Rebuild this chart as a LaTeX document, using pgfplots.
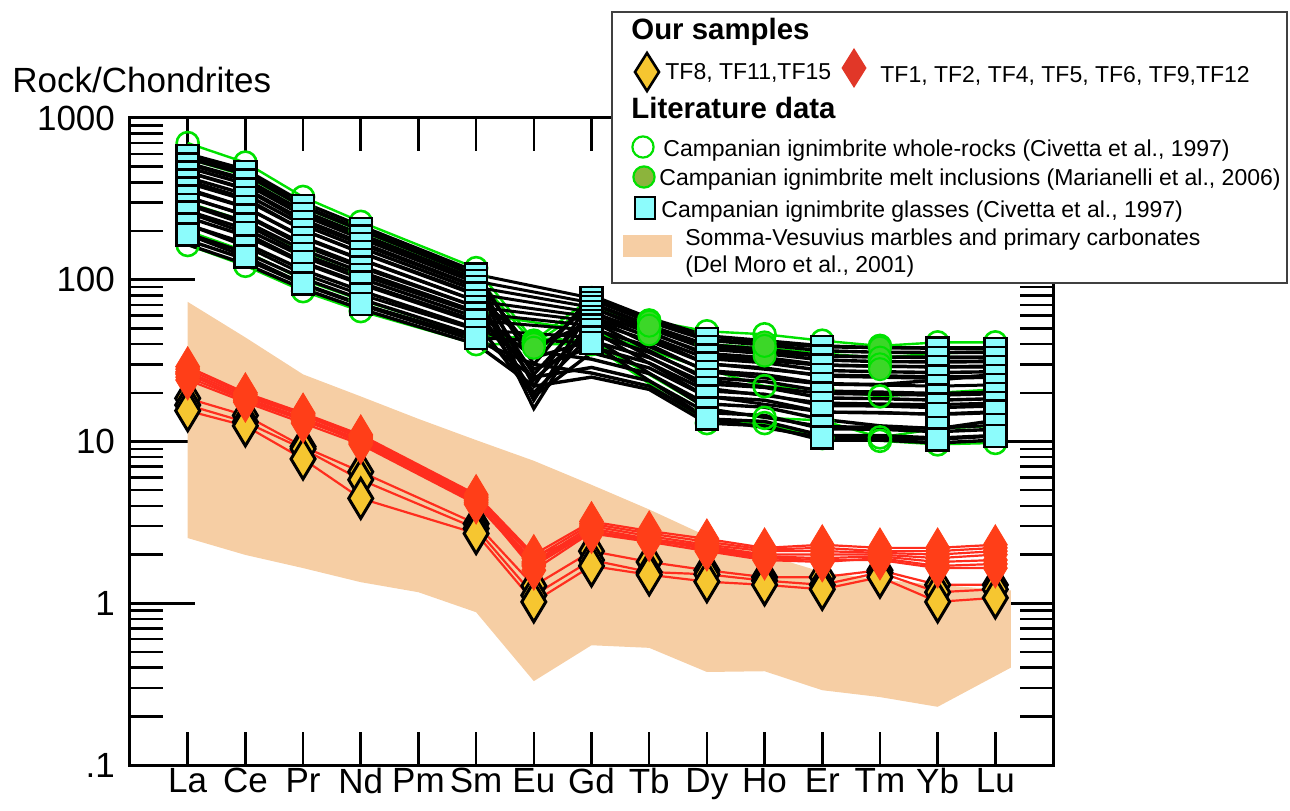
\documentclass[border=0pt]{standalone}
\usepackage{pgfplots}
\pgfplotsset{compat=1.18}
\usepackage{pgfplotstable}
\usepackage{fontspec}
\setmainfont{Liberation Sans}
\usetikzlibrary{calc}

\definecolor{bandc}{RGB}{246,206,164}
\definecolor{cyanq}{RGB}{140,252,252}
\definecolor{grn}{RGB}{0,225,0}
\definecolor{mfill}{RGB}{60,215,40}
\definecolor{legmelt}{RGB}{140,180,60}
\definecolor{redd}{RGB}{255,62,24}
\definecolor{redl}{RGB}{255,45,30}
\definecolor{legred}{RGB}{225,55,40}
\definecolor{ylw}{RGB}{246,198,48}

% Campanian ignimbrite lines (black)
\pgfplotstableread{
x  b1  b2  b3  b4  b5  b6  b7   b8  b9  b10  b11  b12  b13  b14  b15  b16
0  600 562 527 494 463 429 397  358 323 295  266  243  219  193  176  165
1  480 449 419 392 367 338 312  280 252 229  206  187  168  147  134  125
2  300 282 266 250 235 218 203  184 167 153  139  127  115  102  93.5 88
3  215 203 191 180 170 158 147  134 122 112  102  94   85.6 76   70   66
5  112 106 101 96  91  86  80.5 74  68  63.6 58.6 54.5 50   45   42   40
6  30  22  35  18  26  16  38   24  20  33   28   19   36   25   30   22
7  80  75.5 71 67  63  59  55   50  46  42   38.5 35.4 32.3 28.7 26.5 25
8  58  55  52  50  47  44.5 42  38.6 35.6 33 30.6 28.5 26.3 23.7 22   21
9  45  42.3 39.7 37.3 35 32.6 30.2 27.4 24.8 22.7 20.6 18.9 17.1 15.1 13.8 13
10 42  39.5 37.2 35 33 30.7 28.5 25.9 23.5 21.6 19.6 18 16.3 14.5 13.3 12.5
11 39  36.4 34 31.9 29.8 27.5 25.4 22.8 20.5 18.6 16.7 15.2 13.7 12 10.9 10.2
12 38  35.6 33.3 31.2 29.2 27 25 22.5 20.2 18.4 16.6 15.1 12.5 11.9 10.9 10.2
13 38  35.5 33.2 31 29 26.7 24.6 24 19.8 18 16.2 14.7 12 11.5 10.5 9.8
14 38  35.6 33.3 31.2 29.2 27 25 26 20.2 18.4 16.6 15.1 13.5 11.9 10.9 10.2
}\tblk

% whole rocks (green)
\pgfplotstableread{
x  g1  g2  g3  g4   g5
0  700 560 300 200  164
1  530 440 230 150  122
2  325 280 150 100  85
3  228 200 112 75   64
5  118 105 62  45   40
6  42  40  nan nan  nan
7  77  70  48  42   40
8  56  50  nan nan  nan
9  48  40  28  16   13
10 46  38  22  14   13
11 42  35  21  13.5 10.5
12 39  33  19  10.6 10.1
13 41  35  20  12   9.6
14 41  36  21  12.5 9.8
}\tgrn

% melt inclusions
\pgfplotstableread{
x  m1 m2 m3 m4
6  41 39 40 38
8  55 50 46 52
10 41 37 34 39
12 38 33 30 28
}\tmlt

% glasses
\pgfplotstableread{
x  s1   s2   s3   s4   s5   s6   s7   s8   s9    s10
0  580  517  461  411  366  327  291  260  219   190
1  464  410  362  320  282  249  220  195  161   139
2  286  255  228  203  181  162  144  129  108.5 94.7
3  206  185  166  148  133  119  107  96   81    71
5  108  98   90   82   74   68   62   56   49    43.7
7  77   72   67.6 63   59   55.5 52   48.7 44    40.8
9  43   38.3 34   30.3 27   24   21.4 19   16    13.9
11 38.4 33.6 29.5 25.8 22.6 19.8 17.3 15.2 12.4  10.6
13 37.6 32.9 28.8 25.2 22   19.3 16.9 14.8 12.1  10.3
14 37.3 32.8 28.9 25.4 22.4 19.7 17.3 15.3 12.6  10.8
}\tgls

% our samples, red
\pgfplotstableread{
x  r1  r2  r3   r4   r5   r6   r7
0  29  27  26   25   24   28   26.5
1  20  19  18.5 18   17.5 19.5 18
2  15  14.5 14  13.5 13   14.8 13.8
3  11  10.5 10.2 10  9.6  10.8 9.8
5  4.7 4.5 4.4  4.2  4.1  4.6  4.3
6  2.0 1.9 1.8  1.75 1.7  1.95 1.6
7  3.2 3.1 3.0  2.9  2.8  2.7  2.75
8  2.8 2.7 2.6  2.5  2.45 2.4  2.5
9  2.5 2.4 2.3  2.25 2.2  2.1  2.15
10 2.2 2.15 2.1 2.0  1.95 1.85 1.9
11 2.3 2.2 2.1  2.0  1.9  1.8  1.85
12 2.2 2.1 2.05 2.0  1.95 1.9  1.85
13 2.2 2.1 2.0  1.9  1.8  1.7  1.65
14 2.3 2.2 2.1  2.0  1.85 1.75 1.65
}\tred

% our samples, yellow
\pgfplotstableread{
x  y1   y2   y3
0  18.5 16.8 15.5
1  14.5 13.2 12.5
2  9.3  9.0  7.8
3  6.5  5.8  4.45
5  3.1  2.9  2.7
6  1.28 1.12 1.02
7  2.1  1.85 1.7
8  1.8  1.56 1.5
9  1.6  1.51 1.36
10 1.45 1.38 1.3
11 1.45 1.3  1.22
12 1.6  1.55 1.45
13 1.3  1.17 1.02
14 1.3  1.22 1.08
}\tylw

\begin{document}
\begin{tikzpicture}
\begin{axis}[
  scale only axis,
  width=461.5pt, height=323.5pt,
  xmin=-1, xmax=15,
  ymode=log, ymin=0.1, ymax=1000,
  xtick={0,...,14},
  xticklabels={La,Ce,Pr,Nd,Pm,Sm,Eu,Gd,Tb,Dy,Ho,Er,Tm,Yb,Lu},
  minor xtick={0,...,14},
  major x tick style={draw=none},
  ytick={0.1,1,10,100,1000},
  yticklabels={.1,1,10,100,1000},
  minor ytick={0.2,0.3,0.4,0.5,0.6,0.7,0.8,0.9,2,3,4,5,6,7,8,9,20,30,40,50,60,70,80,90,200,300,400,500,600,700,800,900},
  tick align=inside,
  major tick length=32.5pt,
  minor tick length=16.5pt,
  tick style={line width=1.3pt, black},
  axis line style={line width=1.5pt},
  unbounded coords=jump,
  /pgf/number format/assume math mode=true,
  ticklabel style={font=\fontsize{17.5}{20}\selectfont},
  xticklabel style={yshift=2pt},
  yticklabel style={xshift=-4pt},
]
% Somma-Vesuvius band
\addplot[fill=bandc, draw=none] coordinates {
 (0,73) (1,44) (2,26) (3,19) (4,13.8) (5,10.2) (6,7.6) (7,5.4) (8,3.8) (9,2.6) (10,2.0) (11,1.56) (12,1.4) (13,1.3) (14.27,1.2)
 (14.27,0.40) (13,0.229) (12,0.263) (11,0.29) (10,0.38) (9,0.376) (8,0.53) (7,0.55) (6,0.33) (5,0.88) (4,1.17) (3,1.35) (2,1.65) (1,1.99) (0,2.53)
};
% green whole-rock lines
\pgfplotsinvokeforeach{1,...,5}{
  \addplot[grn, line width=1.2pt, mark=none, unbounded coords=discard] table[x=x,y=g#1]{\tgrn};
}
% black lines
\pgfplotsinvokeforeach{1,...,16}{
  \addplot[black, line width=1.7pt, mark=none] table[x=x,y=b#1]{\tblk};
}
\pgfplotsinvokeforeach{1,...,10}{
  \addplot[black, line width=1.5pt, mark=none] table[x=x,y=s#1]{\tgls};
}
% whole-rock circles
\pgfplotsinvokeforeach{1,...,5}{
  \addplot[only marks, mark=o, mark size=5.5pt, mark options={draw=grn, line width=1.3pt}] table[x=x,y=g#1]{\tgrn};
}
% melt inclusions
\pgfplotsinvokeforeach{1,...,4}{
  \addplot[only marks, mark=*, mark size=5.5pt, mark options={draw=grn, fill=mfill, line width=1pt}] table[x=x,y=m#1]{\tmlt};
}
% glasses squares
\pgfplotsinvokeforeach{1,...,10}{
  \addplot[only marks, mark=square*, mark size=5.5pt, mark options={draw=black, fill=cyanq, line width=1.2pt}] table[x=x,y=s#1]{\tgls};
}
% our samples: red lines
\pgfplotsinvokeforeach{1,...,7}{
  \addplot[redl, line width=1.1pt, mark=none] table[x=x,y=r#1]{\tred};
}
% yellow samples
\pgfplotsinvokeforeach{1,2,3}{
  \addplot[redl, line width=1.1pt, mark=diamond*, mark size=10pt, mark options={xscale=0.8, draw=black, fill=ylw, line width=1.5pt}] table[x=x,y=y#1]{\tylw};
}
% red markers
\pgfplotsinvokeforeach{1,...,7}{
  \addplot[only marks, mark=diamond*, mark size=10pt, mark options={xscale=0.8, draw=redd, fill=redd}] table[x=x,y=r#1]{\tred};
}
\end{axis}

\begin{scope}[shift={($(current axis.south west)+(-65pt,382.5pt)$)}, x=0.5pt, y=-0.5pt]
  % y label
  \node[anchor=base west, inner sep=0pt, font=\fontsize{17.5}{20}\selectfont] at (12,93) {Rock/Chondrites};
  % legend
  \draw[line width=0.9pt, draw=black!75, fill=white] (612,12) rectangle (1287,283);
  \node[anchor=base west, inner sep=0pt, font=\fontsize{14.7}{17}\selectfont\bfseries] at (631,40) {Our samples};
  \filldraw[fill=ylw, draw=black, line width=1.3pt] (647,53) -- (659,72) -- (647,91) -- (635,72) -- cycle;
  \node[anchor=base west, inner sep=0pt, font=\fontsize{11.5}{14}\selectfont] at (665,80) {TF8, TF11,TF15};
  \fill[legred] (854,48) -- (866.5,68) -- (854,88) -- (841.5,68) -- cycle;
  \node[anchor=base west, inner sep=0pt, font=\fontsize{11.5}{14}\selectfont] at (880,83) {TF1, TF2, TF4, TF5, TF6, TF9,TF12};
  \node[anchor=base west, inner sep=0pt, font=\fontsize{14.7}{17}\selectfont\bfseries] at (631,119) {Literature data};
  \draw[grn, line width=1.1pt] (643,147) circle[radius=5.3pt];
  \node[anchor=base west, inner sep=0pt, font=\fontsize{11.5}{14}\selectfont] at (663,157) {Campanian ignimbrite whole-rocks (Civetta et al., 1997)};
  \filldraw[fill=legmelt, draw=grn, line width=1.1pt] (644,177) circle[radius=5.3pt];
  \node[anchor=base west, inner sep=0pt, font=\fontsize{11.5}{14}\selectfont] at (659,186) {Campanian ignimbrite melt inclusions (Marianelli et al., 2006)};
  \filldraw[fill=cyanq, draw=black, line width=1.1pt] (635,197) rectangle (655,219);
  \node[anchor=base west, inner sep=0pt, font=\fontsize{11.5}{14}\selectfont] at (661,218) {Campanian ignimbrite glasses (Civetta et al., 1997)};
  \fill[bandc] (623,235) rectangle (672,257);
  \node[anchor=base west, inner sep=0pt, font=\fontsize{11.5}{14}\selectfont] at (685,246) {Somma-Vesuvius marbles and primary carbonates};
  \node[anchor=base west, inner sep=0pt, font=\fontsize{11.5}{14}\selectfont] at (685,272) {(Del Moro et al., 2001)};
  \pgfresetboundingbox
  \path[use as bounding box] (0,0) rectangle (1290,810);
\end{scope}
\end{tikzpicture}
\end{document}
